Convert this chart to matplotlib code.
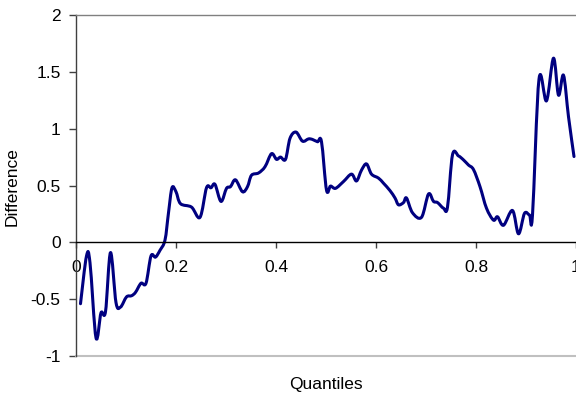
import numpy as np
import matplotlib
matplotlib.use("Agg")
import matplotlib.pyplot as plt
from matplotlib.path import Path
from matplotlib.patches import PathPatch

plt.rcParams['font.family'] = ['Liberation Sans', 'DejaVu Sans']

quantiles = [0.009, 0.021, 0.028, 0.040, 0.050, 0.059, 0.069, 0.080, 0.089, 0.101,
             0.111, 0.119, 0.130, 0.140, 0.150, 0.159, 0.168, 0.178, 0.185, 0.192,
             0.200, 0.209, 0.231, 0.248, 0.261, 0.270, 0.278, 0.290, 0.301, 0.309,
             0.319, 0.333, 0.343, 0.351, 0.365, 0.378, 0.391, 0.401, 0.409, 0.419,
             0.428, 0.440, 0.453, 0.465, 0.473, 0.483, 0.491, 0.501, 0.509, 0.519,
             0.535, 0.551, 0.561, 0.571, 0.581, 0.591, 0.605, 0.615, 0.628, 0.638,
             0.645, 0.655, 0.661, 0.673, 0.691, 0.705, 0.715, 0.723, 0.735, 0.743,
             0.753, 0.765, 0.775, 0.785, 0.795, 0.808, 0.821, 0.835, 0.843, 0.855,
             0.873, 0.885, 0.897, 0.907, 0.913, 0.926, 0.941, 0.955, 0.965, 0.975,
             0.985, 0.996]
difference = [-0.54, -0.12, -0.18, -0.84, -0.62, -0.61, -0.09, -0.53, -0.57, -0.48,
              -0.47, -0.44, -0.36, -0.36, -0.12, -0.13, -0.07, 0.02, 0.26, 0.48,
              0.445, 0.34, 0.31, 0.22, 0.48, 0.48, 0.51, 0.36, 0.475, 0.49,
              0.55, 0.445, 0.49, 0.59, 0.61, 0.665, 0.78, 0.73, 0.75, 0.73,
              0.915, 0.97, 0.89, 0.91, 0.905, 0.885, 0.885, 0.46, 0.495, 0.475,
              0.535, 0.60, 0.54, 0.635, 0.69, 0.60, 0.565, 0.52, 0.455, 0.39,
              0.33, 0.35, 0.39, 0.26, 0.22, 0.425, 0.36, 0.35, 0.30, 0.31,
              0.77, 0.76, 0.725, 0.68, 0.64, 0.49, 0.30, 0.195, 0.225, 0.15,
              0.28, 0.075, 0.255, 0.24, 0.24, 1.435, 1.245, 1.62, 1.295, 1.47,
              1.105, 0.755]
xticks = [0, 0.2, 0.4, 0.6, 0.8, 1.0]
xticklabels = ["0", "0.2", "0.4", "0.6", "0.8", "1"]
yticks = [-1, -0.5, 0, 0.5, 1, 1.5, 2]
yticklabels = ["-1", "-0.5", "0", "0.5", "1", "1.5", "2"]

fig = plt.figure(figsize=(5.76, 3.98), dpi=100)
ax = fig.add_axes([76/576, 1-356/398, 500/576, 341/398])
ax.set_xlim(0, 1)
ax.set_ylim(-1, 2)

# Smoothed line (Catmull-Rom style Bezier, like a spreadsheet's smoothed line)
x = np.array(quantiles); y = np.array(difference)
verts = [(x[0], y[0])]
codes = [Path.MOVETO]
n = len(x)
for i in range(n - 1):
    p0 = np.array([x[max(i-1, 0)], y[max(i-1, 0)]])
    p1 = np.array([x[i], y[i]])
    p2 = np.array([x[i+1], y[i+1]])
    p3 = np.array([x[min(i+2, n-1)], y[min(i+2, n-1)]])
    c1 = p1 + (p2 - p0) / 6.0
    c2 = p2 - (p3 - p1) / 6.0
    verts += [tuple(c1), tuple(c2), tuple(p2)]
    codes += [Path.CURVE4, Path.CURVE4, Path.CURVE4]
patch = PathPatch(Path(verts, codes), facecolor='none', edgecolor='#000080',
                  lw=2.2, transform=ax.transData, joinstyle='round', capstyle='round')
ax.add_patch(patch)

ax.spines['right'].set_visible(False)
ax.spines['top'].set_color('#808080')
ax.spines['top'].set_linewidth(1.0)
ax.spines['left'].set_color('#404040')
ax.spines['left'].set_linewidth(1.0)
ax.spines['bottom'].set_position(('data', 0))
ax.spines['bottom'].set_color('#000000')
ax.spines['bottom'].set_linewidth(1.0)
ax.axhline(-1, color='#c0c0c0', lw=1.5, clip_on=False)

ax.set_xticks(xticks)
ax.set_xticklabels(xticklabels)
ax.set_yticks(yticks)
ax.set_yticklabels(yticklabels)
ax.tick_params(axis='x', direction='out', length=4, width=1, color='#404040',
               labelsize=12.5, pad=9)
ax.tick_params(axis='y', direction='out', length=5, width=1, color='#404040',
               labelsize=12.5, pad=6)

fig.text(12/576, 1-187/398, "Difference", rotation=90, ha='center', va='center', fontsize=12.5)
fig.text(326/576, 1-384/398, "Quantiles", ha='center', va='center', fontsize=12.5)

fig.savefig("out.png", dpi=100)
